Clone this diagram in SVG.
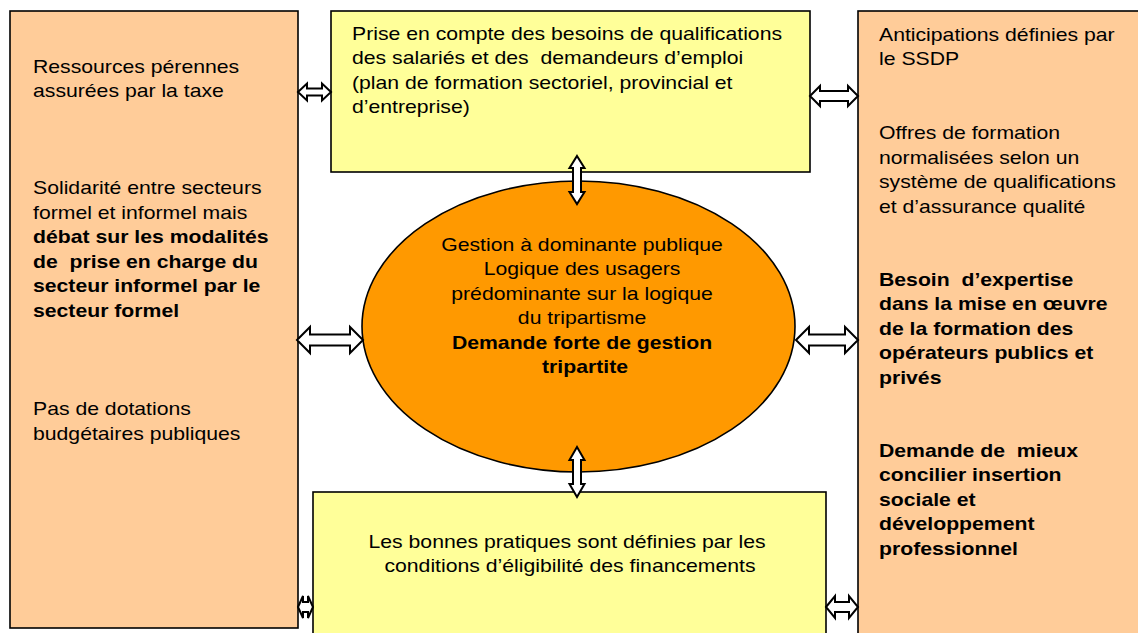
<svg xmlns="http://www.w3.org/2000/svg" width="1138" height="633" viewBox="0 0 1138 633">
<style>
.peach{fill:#FFCC99;stroke:#000;stroke-width:1.6}
.yellow{fill:#FFFF99;stroke:#000;stroke-width:1.6}
.oval{fill:#FF9900;stroke:#000;stroke-width:1.6}
.arr{fill:#fff;stroke:#000;stroke-width:2;stroke-linejoin:miter}
text{font-family:"Liberation Sans",Arial,sans-serif;font-size:18.2px;fill:#000}
.b{font-weight:bold}
.c{text-anchor:middle}
</style>
<rect width="1138" height="633" fill="#fff"/>
<g id="left-box">
<rect class="peach" x="10" y="11" width="288" height="617"/>
<text transform="translate(33,0) scale(1.165,1)">
<tspan x="0" y="73">Ressources pérennes</tspan>
<tspan x="0" y="97">assurées par la taxe</tspan>
<tspan x="0" y="194">Solidarité entre secteurs</tspan>
<tspan x="0" y="219">formel et informel mais</tspan>
<tspan x="0" y="243" class="b">débat sur les modalités</tspan>
<tspan x="0" y="268" class="b" xml:space="preserve">de  prise en charge du</tspan>
<tspan x="0" y="292" class="b">secteur informel par le</tspan>
<tspan x="0" y="317" class="b">secteur formel</tspan>
<tspan x="0" y="415">Pas de dotations</tspan>
<tspan x="0" y="440">budgétaires publiques</tspan>
</text>
</g>
<g id="top-box">
<rect class="yellow" x="331" y="11" width="479" height="161"/>
<text transform="translate(352,0) scale(1.165,1)">
<tspan x="0" y="40">Prise en compte des besoins de qualifications</tspan>
<tspan x="0" y="64" xml:space="preserve">des salariés et des  demandeurs d’emploi</tspan>
<tspan x="0" y="89">(plan de formation sectoriel, provincial et</tspan>
<tspan x="0" y="113">d’entreprise)</tspan>
</text>
</g>
<g id="right-box">
<rect class="peach" x="858" y="11" width="290" height="630"/>
<text transform="translate(879,0) scale(1.165,1)">
<tspan x="0" y="41">Anticipations définies par</tspan>
<tspan x="0" y="65">le SSDP</tspan>
<tspan x="0" y="139">Offres de formation</tspan>
<tspan x="0" y="164">normalisées selon un</tspan>
<tspan x="0" y="188">système de qualifications</tspan>
<tspan x="0" y="213">et d’assurance qualité</tspan>
<tspan x="0" y="286" class="b" xml:space="preserve">Besoin  d’expertise</tspan>
<tspan x="0" y="310" class="b">dans la mise en œuvre</tspan>
<tspan x="0" y="335" class="b">de la formation des</tspan>
<tspan x="0" y="359" class="b">opérateurs publics et</tspan>
<tspan x="0" y="384" class="b">privés</tspan>
<tspan x="0" y="457" class="b" xml:space="preserve">Demande de  mieux</tspan>
<tspan x="0" y="481" class="b">concilier insertion</tspan>
<tspan x="0" y="506" class="b">sociale et</tspan>
<tspan x="0" y="530" class="b">développement</tspan>
<tspan x="0" y="555" class="b">professionnel</tspan>
</text>
</g>
<g id="bottom-box">
<rect class="yellow" x="313" y="492" width="513" height="150"/>
<text class="c" transform="translate(570,0) scale(1.165,1)">
<tspan x="0" y="548">Les bonnes pratiques sont définies par les</tspan>
<tspan x="0" y="572">conditions d’éligibilité des financements</tspan>
</text>
</g>
<g id="center-oval">
<ellipse class="oval" cx="578.5" cy="326.5" rx="216.5" ry="145.5"/>
<text class="c" transform="translate(585,0) scale(1.165,1)">
<tspan x="0" y="251">Gestion à dominante publique</tspan>
<tspan x="0" y="275">Logique des usagers</tspan>
<tspan x="0" y="300">prédominante sur la logique</tspan>
<tspan x="0" y="324">du tripartisme</tspan>
<tspan x="0" y="349" class="b">Demande forte de gestion</tspan>
<tspan x="0" y="373" class="b">tripartite</tspan>
</text>
</g>
<g id="connectors">
<polygon class="arr" points="298,92 307,83.5 307,88.5 322,88.5 322,83.5 331,92 322,100.5 322,95.5 307,95.5 307,100.5"/>
<polygon class="arr" points="810,96 820,86 820,91 848,91 848,86 858,96 848,106 848,101 820,101 820,106"/>
<polygon class="arr" points="297,340 310,327 310,334.5 350,334.5 350,327 363,340 350,353 350,345.5 310,345.5 310,353"/>
<polygon class="arr" points="796,340 809,327 809,334.5 845,334.5 845,327 858,340 845,353 845,345.5 809,345.5 809,353"/>
<polygon class="arr" points="577,156 584.5,168 581,168 581,192 584.5,192 577,204 569.5,192 573,192 573,168 569.5,168"/>
<polygon class="arr" points="577,447 584.5,460 581,460 581,484 584.5,484 577,497 569.5,484 573,484 573,460 569.5,460"/>
<polygon class="arr" points="298,607 303,596 303,602 308,602 308,596 313,607 308,618 308,612 303,612 303,618"/>
<polygon class="arr" points="826,607 835,596 835,602 849,602 849,596 858,607 849,618 849,612 835,612 835,618"/>
</g>
</svg>
